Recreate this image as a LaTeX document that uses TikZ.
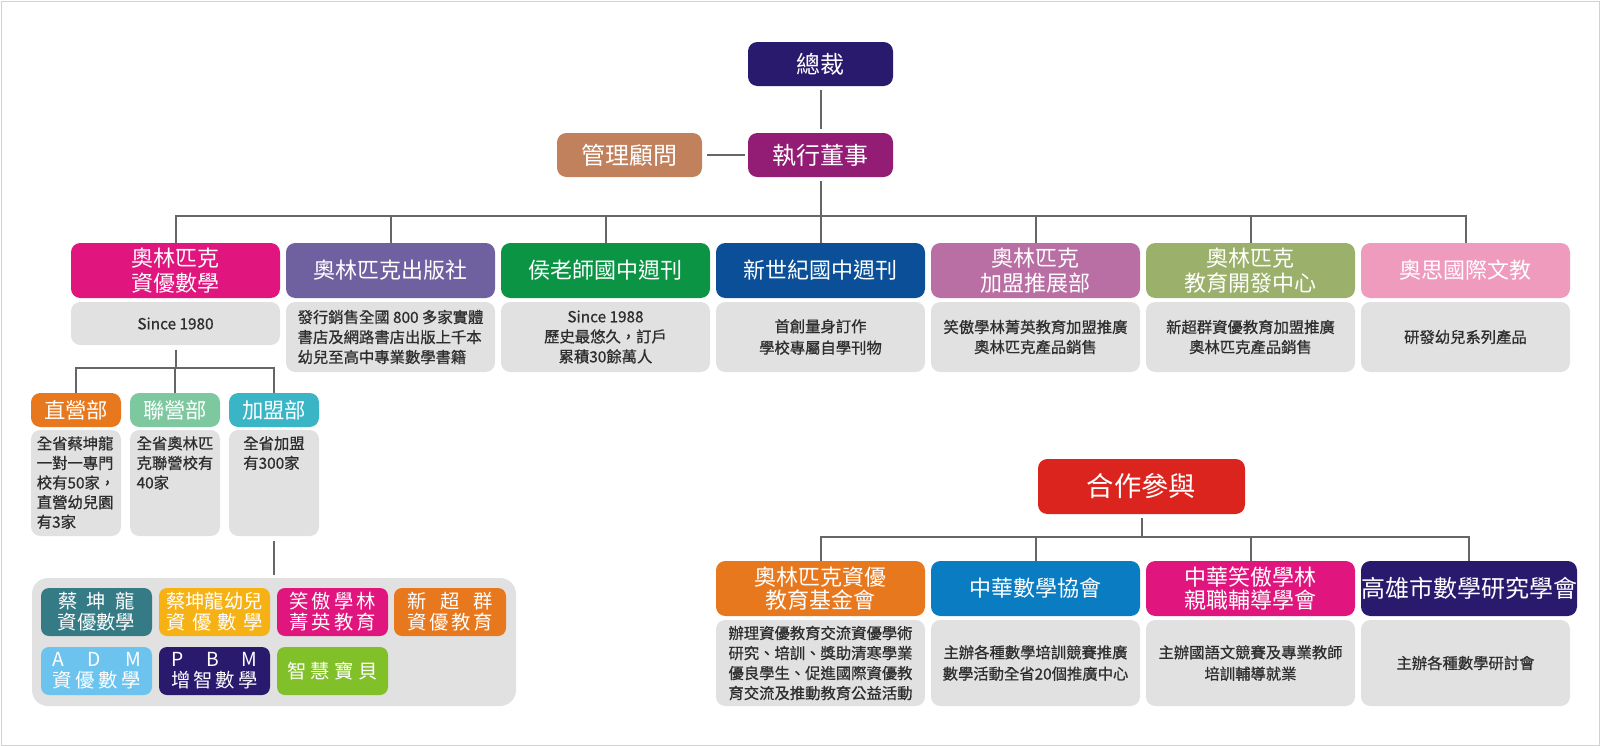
\documentclass[tikz,border=0pt]{standalone}
\usepackage{fontspec}
\newfontfamily\cjk{Noto Sans CJK TC}
\newfontfamily\cjkg{Noto Sans CJK TC}[FakeBold=0.8]
\definecolor{cNavy}{HTML}{2A1A6E}
\definecolor{cPlum}{HTML}{931C74}
\definecolor{cBrown}{HTML}{C0815C}
\definecolor{cPink}{HTML}{E0157D}
\definecolor{cViolet}{HTML}{6F60A0}
\definecolor{cGreen}{HTML}{0A9444}
\definecolor{cBlue}{HTML}{0A4F97}
\definecolor{cMauve}{HTML}{B96FA4}
\definecolor{cOlive}{HTML}{9BB06A}
\definecolor{cRose}{HTML}{EF9BBE}
\definecolor{cGray}{HTML}{E1E1E1}
\definecolor{cOrange}{HTML}{E8781E}
\definecolor{cMint}{HTML}{7EC8A0}
\definecolor{cCyan}{HTML}{3AB5C6}
\definecolor{cTeal}{HTML}{357B86}
\definecolor{cYellow}{HTML}{F6B114}
\definecolor{cSky}{HTML}{6CC4EE}
\definecolor{cLime}{HTML}{82C02A}
\definecolor{cRed}{HTML}{DC241F}
\definecolor{cAzure}{HTML}{0A7DC2}
\definecolor{cLine}{HTML}{666666}
\definecolor{cText}{HTML}{2E2E2E}
\newcommand\mkbox[7]{\node[#6,anchor=north west,minimum width={(#4-#2)*0.75pt},minimum height={(#5-#3)*0.75pt}] (#1) at (#2,#3) {#7};}
\newcommand\spr[2]{\makebox[#1][s]{#2}}
\tikzset{
  bx/.style={rounded corners=7pt,inner sep=0pt,outer sep=0pt,text=white,align=center,font=\cjk\fontsize{16.5}{19}\selectfont},
  bigbx/.style={bx,font=\cjk\fontsize{18}{21}\selectfont},
  subbx/.style={bx,font=\cjk\fontsize{16}{19}\selectfont},
  smallbx/.style={bx,rounded corners=6pt,font=\cjk\fontsize{14.5}{15.8}\selectfont},
  graybx/.style={rounded corners=7pt,inner sep=0pt,outer sep=0pt,fill=cGray},
  gtext/.style={inner sep=0pt,text=cText,font=\cjkg\fontsize{11.5}{15}\selectfont},
  conn/.style={draw=cLine,line width=1.5pt}
}
\begin{document}
\begin{tikzpicture}[x=0.75pt,y=-0.75pt]
\useasboundingbox (0,0) rectangle (1600,746);
\fill[white] (0,0) rectangle (1600,746);
\draw[gray!35,line width=0.75pt] (1,1) rectangle (1599,745);

% top
\mkbox{zc}{748}{42}{893}{86}{bigbx,fill=cNavy}{總裁}
\mkbox{ex}{748}{133}{893}{177}{bigbx,fill=cPlum}{執行董事}
\mkbox{gl}{557}{133}{702}{177}{bigbx,fill=cBrown}{管理顧問}
\draw[conn,shorten <=3pt,shorten >=3pt] (zc.south) -- (ex.north);
\draw[conn,shorten <=4pt,shorten >=2pt] (gl.east) -- (ex.west);

% columns
\mkbox{c1}{71}{243}{280}{298}{bx,fill=cPink}{奧林匹克\\資優數學}
\mkbox{c2}{286}{243}{495}{298}{bx,fill=cViolet}{奧林匹克出版社}
\mkbox{c3}{501}{243}{710}{298}{bx,fill=cGreen}{侯老師國中週刊}
\mkbox{c4}{716}{243}{925}{298}{bx,fill=cBlue}{新世紀國中週刊}
\mkbox{c5}{931}{243}{1140}{298}{bx,fill=cMauve}{奧林匹克\\加盟推展部}
\mkbox{c6}{1146}{243}{1355}{298}{bx,fill=cOlive}{奧林匹克\\教育開發中心}
\mkbox{c7}{1361}{243}{1570}{298}{bx,fill=cRose}{奧思國際文教}

\mkbox{g1}{71}{302}{280}{345}{graybx}{}
\mkbox{g2}{286}{302}{495}{372}{graybx}{}
\mkbox{g3}{501}{302}{710}{372}{graybx}{}
\mkbox{g4}{716}{302}{925}{372}{graybx}{}
\mkbox{g5}{931}{302}{1140}{372}{graybx}{}
\mkbox{g6}{1146}{302}{1355}{372}{graybx}{}
\mkbox{g7}{1361}{302}{1570}{372}{graybx}{}
\node[gtext] (t1) at (g1.center) {Since 1980};
\node[gtext,align=left] (t2) at (g2.center) {發行銷售全國 800 多家實體\\書店及網路書店出版上千本\\幼兒至高中專業數學書籍};
\node[gtext,align=center] (t3) at (g3.center) {Since 1988\\歷史最悠久，訂戶\\累積30餘萬人};
\node[gtext,align=center,font=\cjkg\fontsize{11.5}{16}\selectfont] (t4) at (g4.center) {首創量身訂作\\學校專屬自學刊物};
\node[gtext,align=center] (t5) at (g5.center) {笑傲學林菁英教育加盟推廣\\奧林匹克產品銷售};
\node[gtext,align=center] (t6) at (g6.center) {新超群資優教育加盟推廣\\奧林匹克產品銷售};
\node[gtext] (t7) at (g7.center) {研發幼兒系列產品};

\path (0,216) coordinate (busA);
\draw[conn,shorten <=3pt] (ex.south) -- (ex.south |- busA);
\draw[conn] (c1.north) -- (c1.north |- busA) -- (c7.north |- busA) -- (c7.north);
\foreach \i in {2,...,6} {\draw[conn] (c\i.north) -- (c\i.north |- busA);}

% first column sub departments
\mkbox{d1}{31}{393}{121}{427}{subbx,fill=cOrange}{直營部}
\mkbox{d2}{130}{393}{220}{427}{subbx,fill=cMint}{聯營部}
\mkbox{d3}{229}{393}{319}{427}{subbx,fill=cCyan}{加盟部}
\mkbox{e1}{31}{430}{121}{536}{graybx}{}
\mkbox{e2}{130}{430}{220}{536}{graybx}{}
\mkbox{e3}{229}{430}{319}{536}{graybx}{}
\tikzset{ltext/.style={gtext,align=left,anchor=north,font=\cjkg\fontsize{11.5}{14.7}\selectfont}}
\node[ltext] (u1) at ([yshift=-4.5pt]e1.north) {全省蔡坤龍\\一對一專門\\校有50家，\\直營幼兒園\\有3家};
\node[ltext] (u2) at ([yshift=-4.5pt]e2.north) {全省奧林匹\\克聯營校有\\40家};
\node[ltext] (u3) at ([yshift=-4.5pt]e3.north) {全省加盟\\有300家};

\path (0,368) coordinate (busB);
\draw[conn,shorten <=3.5pt] (g1.south) -- (g1.south |- busB);
\draw[conn] (d1.north) -- (d1.north |- busB) -- (d3.north |- busB) -- (d3.north);
\draw[conn] (d2.north) -- (d2.north |- busB);

% brand panel
\mkbox{pn}{32}{578}{516}{706}{graybx,rounded corners=12pt}{}
\draw[conn,shorten <=4pt,shorten >=2.5pt] (e3.south) -- (e3.south |- pn.north);
\mkbox{b1}{41}{588}{152}{636}{smallbx,fill=cTeal}{\spr{57.75pt}{蔡 坤 龍}\\資優數學}
\mkbox{b2}{159}{588}{270}{636}{smallbx,fill=cYellow}{蔡坤龍幼兒\\\spr{72pt}{資 優 數 學}}
\mkbox{b3}{277}{588}{388}{636}{smallbx,fill=cPink}{\spr{65pt}{笑 傲 學 林}\\\spr{65pt}{菁 英 教 育}}
\mkbox{b4}{394}{588}{506}{636}{smallbx,fill=cOrange}{\spr{64.5pt}{新 超 群}\\\spr{64.5pt}{資 優 教 育}}
\mkbox{b5}{41}{647}{152}{695}{smallbx,fill=cSky}{\spr{66.5pt}{A D M}\\\spr{66.5pt}{資 優 數 學}}
\mkbox{b6}{159}{647}{270}{695}{smallbx,fill=cNavy}{\spr{64.5pt}{P B M}\\\spr{64.5pt}{增 智 數 學}}
\mkbox{b7}{277}{647}{388}{695}{smallbx,fill=cLime}{\spr{68pt}{智 慧 寶 貝}}

% cooperation
\mkbox{hz}{1038}{459}{1245}{514}{bx,fill=cRed,font=\cjk\fontsize{20.5}{23}\selectfont}{合作參與}
\mkbox{k1}{716}{561}{925}{616}{bx,fill=cOrange,font=\cjk\fontsize{16.5}{17}\selectfont}{奧林匹克資優\\教育基金會}
\mkbox{k2}{931}{561}{1140}{616}{bx,fill=cAzure}{中華數學協會}
\mkbox{k3}{1146}{561}{1355}{616}{bx,fill=cPink,font=\cjk\fontsize{16.5}{17.5}\selectfont}{中華笑傲學林\\親職輔導學會}
\mkbox{k4}{1361}{561}{1570}{616}{bx,fill=cNavy,font=\cjk\fontsize{18}{21}\selectfont}{高雄市數學研究學會}
\mkbox{h1}{716}{620}{925}{706}{graybx}{}
\mkbox{h2}{931}{620}{1140}{706}{graybx}{}
\mkbox{h3}{1146}{620}{1355}{706}{graybx}{}
\mkbox{h4}{1361}{620}{1570}{706}{graybx}{}
\node[gtext,align=left] (v1) at (h1.center) {辦理資優教育交流資優學術\\研究、培訓、獎助清寒學業\\優良學生、促進國際資優教\\育交流及推動教育公益活動};
\node[gtext,align=center,font=\cjkg\fontsize{11.5}{16}\selectfont] (v2) at (h2.center) {主辦各種數學培訓競賽推廣\\數學活動全省20個推廣中心};
\node[gtext,align=center,font=\cjkg\fontsize{11.5}{16}\selectfont] (v3) at (h3.center) {主辦國語文競賽及專業教師\\培訓輔導就業};
\node[gtext] (v4) at (h4.center) {主辦各種數學研討會};

\path (0,537) coordinate (busC);
\draw[conn,shorten <=3pt] (hz.south) -- (hz.south |- busC);
\draw[conn] (k1.north) -- (k1.north |- busC) -- (k4.north |- busC) -- (k4.north);
\foreach \i in {2,3} {\draw[conn] (k\i.north) -- (k\i.north |- busC);}
\end{tikzpicture}
\end{document}
